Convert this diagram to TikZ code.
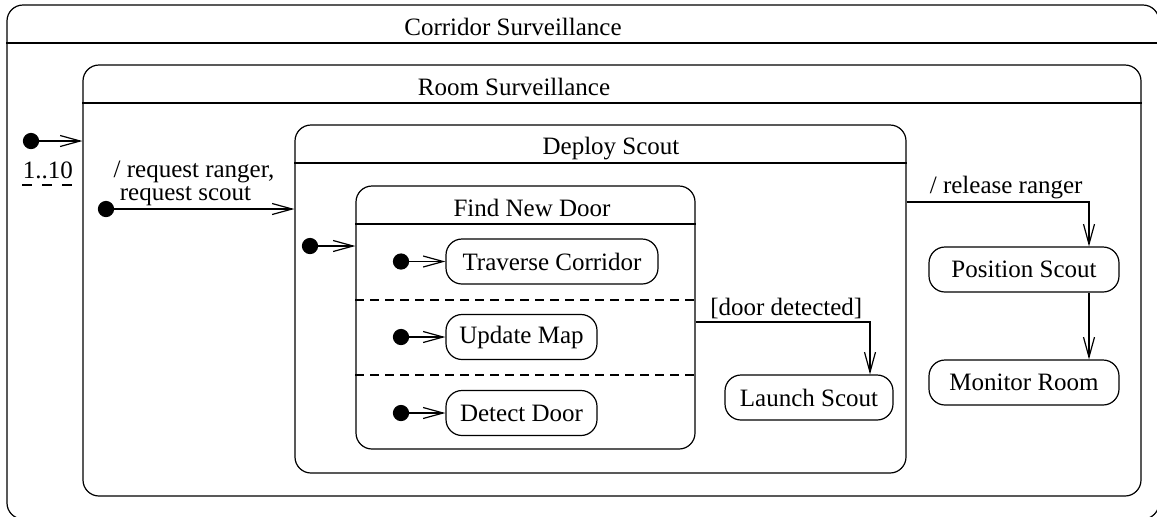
\documentclass[tikz,border=0pt]{standalone}
\usepackage{fontspec}
\setmainfont{Liberation Serif}
\usetikzlibrary{arrows.meta}

\begin{document}
\begin{tikzpicture}[x=0.5pt,y=-0.5pt,semithick,>={Straight Barb[length=10pt,width=5.5pt]},font=\fontsize{12.5}{15}\selectfont]
    \tikzstyle{state}=[draw,rounded corners=8pt,minimum height=22.5pt,inner sep=0pt]
    \tikzstyle{composite}=[draw,rounded corners=8pt,inner sep=0pt]
    \tikzstyle{startdot}=[draw,shape=circle,fill=black,inner sep=0pt,minimum size=7.5pt]
    \tikzstyle{region}=[dash pattern=on 4.5pt off 3pt]

    \useasboundingbox (0,0) rectangle (1157,516);

    % composite states
    \node[composite,minimum width=576pt,minimum height=257pt] at (583,262) (corr) {};
    \node at (513,27) (corrT) {Corridor Surveillance};
    \draw (corr.west |- 0,43) -- (corr.east |- 0,43);

    \node[composite,minimum width=529pt,minimum height=215.5pt] at (612,280.5) (room) {};
    \node at (514,87) (roomT) {Room Surveillance};
    \draw (room.west |- 0,103) -- (room.east |- 0,103);

    \node[composite,minimum width=305.5pt,minimum height=174pt] at (600.5,299) (deploy) {};
    \node at (611,149) (deployT) {Deploy Scout};
    \draw (deploy.west |- 0,163) -- (deploy.east |- 0,163);

    \node[composite,minimum width=169.5pt,minimum height=131.5pt] at (525.5,317.5) (find) {};
    \node at (532,208) (findT) {Find New Door};
    \draw (find.west |- 0,224) -- (find.east |- 0,224);
    \draw[region] (find.west |- 0,300) -- (find.east |- 0,300);
    \draw[region] (find.west |- 0,375) -- (find.east |- 0,375);

    % simple states
    \node[state,minimum width=106pt] at (552,261.5) (trav) {Traverse Corridor};
    \node[state,minimum width=75.5pt] at (521.5,337) (upd) {Update Map};
    \node[state,minimum width=75.5pt] at (521.5,413) (det) {Detect Door};
    \node[state,minimum width=84pt] at (809,397.5) (launch) {Launch Scout};
    \node[state,minimum width=95pt] at (1024,269.5) (pos) {Position Scout};
    \node[state,minimum width=95pt] at (1024,382.5) (mon) {Monitor Room};

    % initial states
    \node[startdot] at (31,141) (i0) {};
    \node[startdot] at (106,209) (i1) {};
    \node[startdot] at (310,246) (i2) {};
    \node[startdot] at (401,261.5) (i3) {};
    \node[startdot] at (401,337) (i4) {};
    \node[startdot] at (401,413) (i5) {};

    \node[inner xsep=0pt,inner ysep=3pt] at (48,170) (mult) {1..10};
    \draw[dash pattern=on 5pt off 5pt] (mult.south west) -- (mult.south east);
    \node[align=left,inner sep=0pt,font=\fontsize{12.5}{11.5}\selectfont] at (194,183) (req) {/ request ranger,\\\ request scout};

    \draw[->] (i0) -- (i0 -| room.west);
    \draw[->] (i1) -- (i1 -| deploy.west);
    \draw[->] (i2) -- (i2 -| find.west);
    \draw[->] (i3) -- (trav);
    \draw[->] (i4) -- (upd);
    \draw[->] (i5) -- (det);

    \draw[->] (find.east |- 0,322) -| ([xshift=30.5pt]launch.north) node [pos=0.26, above, inner sep=1.5pt] {[door detected]};
    \draw[->] (deploy.east |- 0,202) -| ([xshift=32.5pt]pos.north) node [pos=0.273, above, inner sep=1.5pt] {/ release ranger};
    \draw[->] ([xshift=32.5pt]pos.south) -- ([xshift=32.5pt]mon.north);
\end{tikzpicture}
\end{document}
